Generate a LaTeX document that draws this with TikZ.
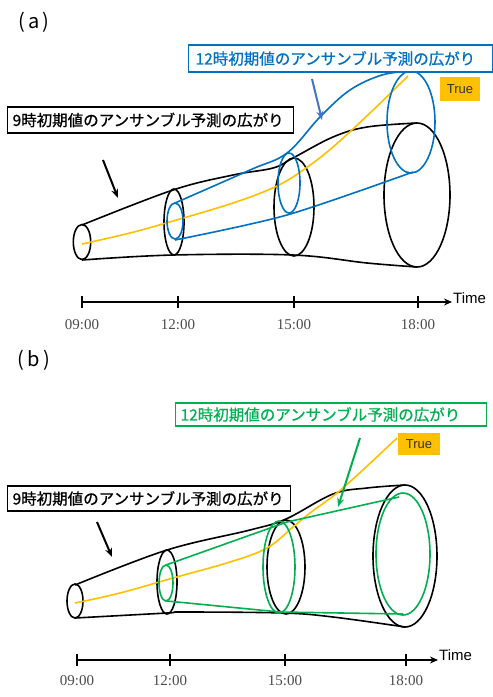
\documentclass[tikz,border=0pt]{standalone}
\usepackage{fontspec}
\setmainfont{Liberation Serif}
\newfontfamily\jpf[FakeBold=0.8]{Noto Sans CJK JP}
\newfontfamily\jpp{Noto Sans CJK JP}
\newfontfamily\lsans{Liberation Sans}
\usetikzlibrary{arrows.meta}
\definecolor{tblue}{HTML}{0070C0}
\definecolor{tgreen}{HTML}{00B050}
\definecolor{torange}{HTML}{FFC000}
\definecolor{aroblue}{HTML}{4472C4}
\begin{document}
\begin{tikzpicture}[x=1pt,y=-1pt,
  tube/.style={line width=1.6pt, black},
  truel/.style={line width=1.6pt, torange},
  ensb/.style={line width=1.6pt, tblue},
  ensg/.style={line width=1.6pt, tgreen},
  lbl/.style={draw, line width=1.2pt, fill=white, font=\jpf\fontsize{15.5}{18}\selectfont,
    inner ysep=0pt, anchor=west, align=left},
  truebox/.style={fill=torange, font=\lsans\fontsize{13}{15}\selectfont, text=black!80, inner sep=0pt},
  tlab/.style={font=\fontsize{15}{17}\selectfont, text=black!70},
  timel/.style={font=\lsans\fontsize{15}{17}\selectfont, anchor=west, inner sep=0pt},
  panel/.style={font=\jpp\fontsize{20}{24}\selectfont},
  axis/.style={line width=2pt, -{Stealth[length=8pt,width=7pt]}},
  tick/.style={line width=1.5pt},
  pointer/.style={line width=2pt, -{Stealth[length=9pt,width=7pt]}}]
\useasboundingbox (0,0) rectangle (493,697);
\fill[white] (0,0) rectangle (493,697);

% ================= panel (a) =================
\node[panel] (pa) at (34,22) {(\,a\,)};

% black tube
\draw[tube] plot[smooth, tension=0.6] coordinates {(82,225) (173,190) (233,175) (273,168) (293,158) (333,137) (367,127) (417,123)};
\draw[tube] plot[smooth, tension=0.6] coordinates {(82,260) (173,255) (293,255) (367,263) (417,267)};
\draw[tube] (82,242) ellipse [x radius=8.7, y radius=17.5];
\draw[tube] (174,222) ellipse [x radius=10, y radius=33];
\draw[tube] (294,207) ellipse [x radius=20, y radius=49];
\draw[tube] (417,195) ellipse [x radius=33, y radius=72];

% true line
\draw[truel] plot[smooth, tension=0.6] coordinates {(82,244) (130,233) (173,221) (233,203) (277,186) (306,168) (333,147) (370,113) (408,76)};

% blue ensemble
\draw[ensb] plot[smooth, tension=0.6] coordinates {(175,203) (250,170) (287,153) (320,117) (350,90) (382,75) (411,71)};
\draw[ensb] plot[smooth, tension=0.5] coordinates {(175,240) (287,215) (413,172)};
\draw[ensb] (175,221) ellipse [x radius=8, y radius=18];
\draw[ensb] (289,183) ellipse [x radius=11, y radius=30];
\draw[ensb] (411,122) ellipse [x radius=24, y radius=51];

% labels
\node[lbl, draw=tblue, text=tblue, text width=290pt, inner xsep=7pt, minimum height=27pt] (l12a) at (188,58.5) {12時初期値のアンサンブル予測の広がり};
\node[truebox, minimum width=40pt, minimum height=24pt] (ta) at (460,89) {True};
\node[lbl, text width=276pt, inner xsep=5pt, minimum height=26pt] (l9a) at (7,120) {9時初期値のアンサンブル予測の広がり};

\coordinate (ba1) at (103,160); \coordinate (ba2) at (118,198);
\draw[pointer] (ba1) -- (ba2);
\coordinate (bb1) at (312,79); \coordinate (bb2) at (322,120);
\draw[pointer, aroblue] (bb1) -- (bb2);

% axis
\coordinate (axa0) at (82,302); \coordinate (axa1) at (452,302);
\draw[axis] (axa0) -- (axa1);
\node[timel] (tma) at (453,298) {Time};
\foreach \x/\t [count=\i] in {82/09:00,178/12:00,294/15:00,418/18:00}{
  \draw[tick] (\x,296) -- (\x,308);
  \node[tlab] (la\i) at (\x,325) {\t};
}

% ================= panel (b) =================
\node[panel] (pb) at (34,360) {(\,b\,)};

% black tube
\draw[tube] plot[smooth, tension=0.6] coordinates {(75,585) (167,550) (250,530) (286,519) (333,494) (367,488) (405,485)};
\draw[tube] plot[smooth, tension=0.6] coordinates {(75,618) (167,613) (183,612) (283,613) (333,617) (405,627)};
\draw[tube] (75,601) ellipse [x radius=8, y radius=17];
\draw[tube] (167,582) ellipse [x radius=10, y radius=32];
\draw[tube] (286,567) ellipse [x radius=19, y radius=47];
\draw[tube] (405,556) ellipse [x radius=32, y radius=71];

% true line
\draw[truel] plot[smooth, tension=0.6] coordinates {(75,603) (120,593) (173,578) (230,562) (267,548) (293,527) (310,513) (343,488) (397,438)};

% green ensemble
\draw[ensg] (166,565) -- (287,522) -- (399,497);
\draw[ensg] (167,601) -- (280,612) -- (403,614);
\draw[ensg] (166,583) ellipse [x radius=7, y radius=18];
\draw[ensg] (279,567) ellipse [x radius=16, y radius=46];
\draw[ensg] (403,554) ellipse [x radius=27, y radius=61];

% labels
\node[lbl, draw=tgreen, text=tgreen, text width=301pt, inner xsep=5pt, minimum height=23pt] (l12b) at (175,414.5) {12時初期値のアンサンブル予測の広がり};
\node[truebox, minimum width=42pt, minimum height=22pt] (tb) at (419,444) {True};
\node[lbl, text width=273pt, inner xsep=5pt, minimum height=25pt] (l9b) at (7,498.5) {9時初期値のアンサンブル予測の広がり};

\coordinate (bc1) at (97,522); \coordinate (bc2) at (112,557);
\draw[pointer] (bc1) -- (bc2);
\coordinate (gc1) at (360,438); \coordinate (gc2) at (338,507);
\draw[pointer, tgreen] (gc1) -- (gc2);

% axis
\coordinate (axb0) at (77,660); \coordinate (axb1) at (438,660);
\draw[axis] (axb0) -- (axb1);
\node[timel] (tmb) at (439,655) {Time};
\foreach \x/\t [count=\i] in {77/09:00,170/12:00,285/15:00,406/18:00}{
  \draw[tick] (\x,654) -- (\x,666);
  \node[tlab] (lb\i) at (\x,681) {\t};
}
\end{tikzpicture}
\end{document}
